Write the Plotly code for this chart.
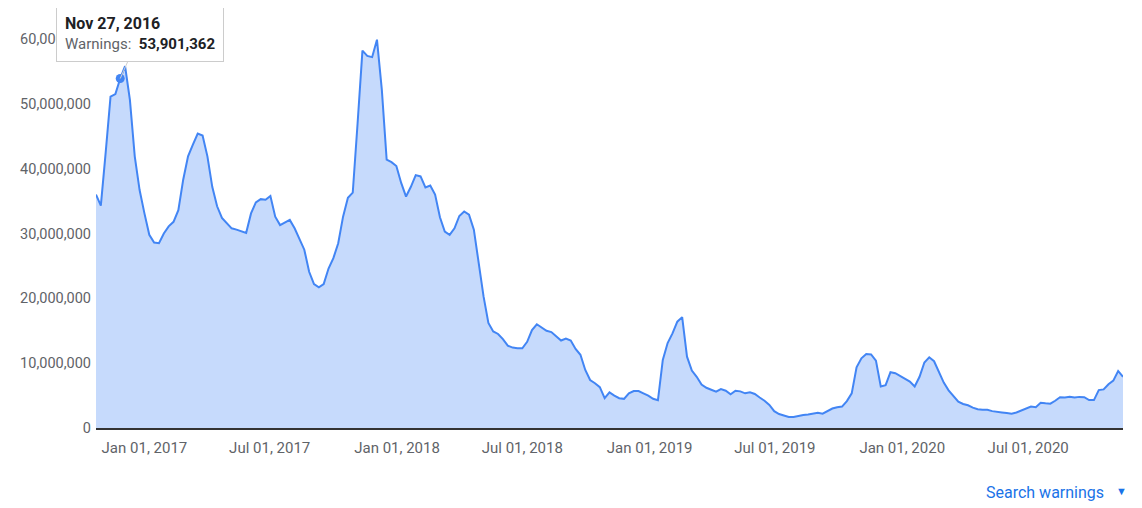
import pandas as pd
import plotly.graph_objects as go

# Weekly warnings (weeks starting Sunday), Oct 23, 2016 .. Nov 15, 2020
start_date = "2016-10-23"
warnings = [
    36000000, 34300000, 42500000, 51100000, 51500000, 53901362, 55800000, 50600000, 41900000, 36700000,
    33100000, 29800000, 28600000, 28500000, 30000000, 31100000, 31800000, 33600000, 38300000, 41900000,
    43700000, 45400000, 45100000, 41900000, 37200000, 34200000, 32400000, 31600000, 30800000, 30600000,
    30400000, 30100000, 33100000, 34800000, 35300000, 35200000, 35800000, 32600000, 31300000, 31700000,
    32100000, 30800000, 29200000, 27500000, 24100000, 22200000, 21700000, 22200000, 24600000, 26200000,
    28500000, 32600000, 35500000, 36300000, 47000000, 58200000, 57400000, 57200000, 59900000, 52200000,
    41400000, 41000000, 40400000, 37800000, 35700000, 37200000, 39000000, 38800000, 37100000, 37400000,
    36000000, 32500000, 30300000, 29800000, 30800000, 32700000, 33400000, 32900000, 30600000, 25400000,
    20300000, 16200000, 14900000, 14500000, 13700000, 12700000, 12400000, 12300000, 12300000, 13300000,
    15100000, 16000000, 15500000, 15000000, 14800000, 14100000, 13500000, 13800000, 13500000, 12200000,
    11300000, 8950000, 7400000, 6900000, 6300000, 4600000, 5500000, 5000000, 4600000, 4500000,
    5350000, 5700000, 5700000, 5350000, 5000000, 4500000, 4300000, 10500000, 13100000, 14600000,
    16400000, 17100000, 11000000, 8850000, 7900000, 6700000, 6200000, 5900000, 5600000, 6000000,
    5750000, 5200000, 5750000, 5650000, 5350000, 5500000, 5250000, 4700000, 4200000, 3550000,
    2600000, 2150000, 1950000, 1700000, 1700000, 1900000, 2000000, 2100000, 2200000, 2350000,
    2200000, 2600000, 3000000, 3200000, 3300000, 4150000, 5350000, 9350000, 10750000, 11400000,
    11350000, 10400000, 6400000, 6600000, 8600000, 8450000, 8000000, 7600000, 7150000, 6400000,
    7900000, 10100000, 10900000, 10300000, 8700000, 7000000, 5800000, 5000000, 4050000, 3700000,
    3500000, 3150000, 2900000, 2800000, 2800000, 2600000, 2450000, 2400000, 2300000, 2200000,
    2400000, 2700000, 3050000, 3300000, 3200000, 3900000, 3800000, 3750000, 4200000, 4750000,
    4700000, 4800000, 4700000, 4800000, 4750000, 4300000, 4300000, 5850000, 5950000, 6750000,
    7300000, 8800000, 7900000,
]
dates = pd.date_range(start_date, periods=len(warnings), freq="7D")

x_tick_dates = ["2017-01-01", "2017-07-01", "2018-01-01", "2018-07-01",
                "2019-01-01", "2019-07-01", "2020-01-01", "2020-07-01"]
x_tick_labels = ["Jan 01, 2017", "Jul 01, 2017", "Jan 01, 2018", "Jul 01, 2018",
                 "Jan 01, 2019", "Jul 01, 2019", "Jan 01, 2020", "Jul 01, 2020"]
y_ticks = [0, 10000000, 20000000, 30000000, 40000000, 50000000, 60000000]

highlight_index = 5
series_name = "Warnings"

LINE = "#4285f4"
FILL = "#c6dafc"
LABEL = "#5f6368"
FONT = "Roboto, Arial, sans-serif"

fig = go.Figure()
fig.add_trace(go.Scatter(
    x=dates, y=warnings, mode="lines", name=series_name,
    line=dict(color=LINE, width=2), fill="tozeroy", fillcolor=FILL,
    hoverinfo="skip",
))
hx = dates[highlight_index]
hy = warnings[highlight_index]
fig.add_trace(go.Scatter(
    x=[hx], y=[hy], mode="markers",
    marker=dict(color=LINE, size=9), hoverinfo="skip",
))

# page body has an 8px margin; figure is sized/margined so the plot lands where the reference has it
fig.update_layout(
    width=1134, height=500,
    margin=dict(l=84, r=19, t=31, b=80),
    plot_bgcolor="white", paper_bgcolor="white",
    showlegend=False,
    font=dict(family=FONT, size=14, color=LABEL),
    xaxis=dict(
        range=[dates[0], dates[-1]],
        tickvals=x_tick_dates, ticktext=x_tick_labels,
        showgrid=False, zeroline=False,
        showline=True, linecolor="#333333", linewidth=1.5,
        ticks="", ticklabelstandoff=5,
        tickfont=dict(family=FONT, size=15, color=LABEL),
    ),
    yaxis=dict(
        range=[0, 60000000],
        tickvals=y_ticks, tickformat=",d",
        showgrid=False, zeroline=False, showline=False,
        ticks="", ticklabelstandoff=4,
        tickfont=dict(family=FONT, size=14.5, color=LABEL),
    ),
)

tooltip = (f"<span style='color:#202124;font-size:16px'><b>{hx.strftime('%b %d, %Y')}</b></span><br>"
           f"<span style='color:{LABEL}'>{series_name}:</span>  "
           f"<span style='color:#202124'><b>{hy:,}</b></span>")
fig.add_annotation(
    x=hx, y=hy, xref="x", yref="y",
    text=tooltip, align="left", showarrow=True,
    arrowhead=0, arrowwidth=1, arrowcolor="#d0d0d0",
    ax=20, ay=-45,
    bgcolor="white", bordercolor="#cccccc", borderwidth=1, borderpad=8,
    font=dict(family=FONT, size=15),
)

fig.add_annotation(
    x=0.9835, y=0.0, xref="paper", yref="paper", yshift=-64,
    xanchor="right", yanchor="middle", showarrow=False,
    text="Search warnings", font=dict(family=FONT, size=16, color="#1a73e8"),
)
fig.add_annotation(
    x=0.999, y=0.0, xref="paper", yref="paper", yshift=-63,
    xanchor="center", yanchor="middle", showarrow=False,
    text="▼", font=dict(family=FONT, size=11, color="#1a73e8"),
)

fig.write_html("out.html")
